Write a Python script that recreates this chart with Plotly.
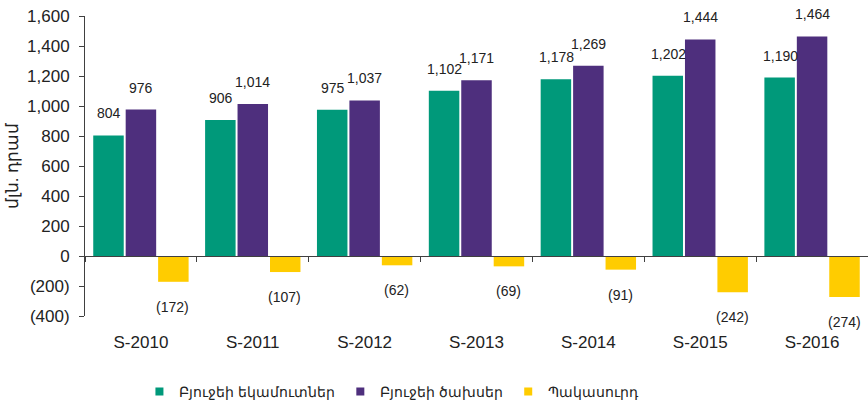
import plotly.graph_objects as go

categories = ["S-2010", "S-2011", "S-2012", "S-2013", "S-2014", "S-2015", "S-2016"]
revenues = [804, 906, 975, 1102, 1178, 1202, 1190]
expenses = [976, 1014, 1037, 1171, 1269, 1444, 1464]
deficit = [-172, -107, -62, -69, -91, -242, -274]
series_names = ["Բյուջեի եկամուտներ", "Բյուջեի ծախսեր", "Պակասուրդ"]
y_tickvals = [-400, -200, 0, 200, 400, 600, 800, 1000, 1200, 1400, 1600]
y_ticktext = ["(400)", "(200)", "0", "200", "400", "600", "800", "1,000", "1,200", "1,400", "1,600"]
y_title = "մլն. դրամ"

colors = ["#00997A", "#4E2F7D", "#FFCC00"]
FONT = "Liberation Sans Narrow, Arial Narrow, Liberation Sans, Arial, sans-serif"
TXT = "#222222"

def fmt(v):
    s = f"{abs(v):,}"
    return f"({s})" if v < 0 else s

fig = go.Figure()
all_series = [revenues, expenses, deficit]
for name, vals, col in zip(series_names, all_series, colors):
    fig.add_trace(go.Bar(x=categories, y=vals, name=name, marker_color=col,
                         marker_line_width=0, showlegend=False, legendgroup=name))
# legend entries with small square markers
for name, col in zip(series_names, colors):
    fig.add_trace(go.Scatter(x=[None], y=[None], mode="markers", name=name,
                             legendgroup=name,
                             marker=dict(symbol="square", size=8, color=col)))

# dummy trace for zero-line axis
fig.add_trace(go.Scatter(x=categories, y=[None] * len(categories), xaxis="x2",
                         showlegend=False, hoverinfo="skip", mode="markers"))

shifts = [-32, 0, 32]
for vals, sh in zip(all_series, shifts):
    for c, v in zip(categories, vals):
        fig.add_annotation(x=c, y=v, text=fmt(v), showarrow=False,
                           xshift=sh, yshift=12 if v >= 0 else -15,
                           yanchor="bottom" if v >= 0 else "top",
                           font=dict(family=FONT, size=14, color=TXT))

fig.update_layout(
    width=868, height=408,
    margin=dict(l=85, r=0, t=16, b=91),
    paper_bgcolor="white", plot_bgcolor="white",
    barmode="group", bargap=0.13, bargroupgap=0.06,
    font=dict(family=FONT, color=TXT),
    showlegend=True,
    legend=dict(orientation="h", x=0.392, xanchor="center", y=-0.2, yanchor="top",
                font=dict(family=FONT, size=14, color=TXT), itemwidth=30,
                traceorder="normal"),
    xaxis=dict(showline=False, ticks="", showgrid=False, zeroline=False,
               automargin=False, ticklabelstandoff=14,
               tickfont=dict(family=FONT, size=17, color=TXT)),
    xaxis2=dict(overlaying="x", matches="x", anchor="free", position=0.2,
                showline=True, linecolor="#404040", linewidth=1,
                ticks="outside", ticklen=5, tickcolor="#404040",
                tickson="boundaries", showticklabels=False, showgrid=False),
    yaxis=dict(range=[-400, 1600], tickvals=y_tickvals, ticktext=y_ticktext,
               showline=True, linecolor="#404040", linewidth=1,
               ticks="outside", ticklen=5, tickcolor="#404040",
               ticklabelstandoff=6,
               showgrid=False, zeroline=False, automargin=False,
               tickfont=dict(family=FONT, size=17, color=TXT),
               title=dict(text=y_title, font=dict(family=FONT, size=17, color=TXT),
                          standoff=4)),
)

fig.write_html("out.html", config={"displayModeBar": False},
               post_script="document.body.style.margin='0';document.body.style.padding='0';")
